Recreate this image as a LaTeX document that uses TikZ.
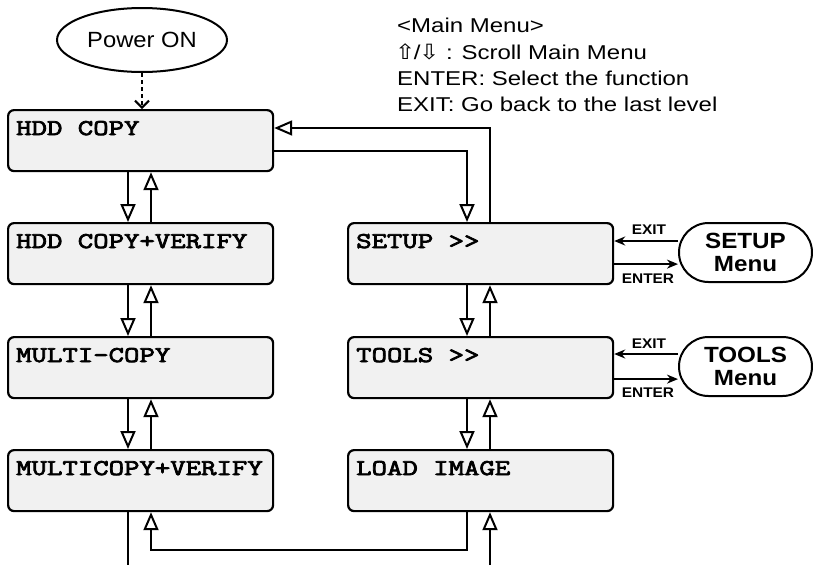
\documentclass[tikz,border=0pt]{standalone}
\usepackage{fontspec}
\setmainfont{Liberation Sans}
\newfontfamily\annotfont[FakeStretch=1.2]{Liberation Sans}
\newfontfamily\powfont[FakeStretch=1.08]{Liberation Sans}
\newfontfamily\menufont[FakeStretch=1.1]{Liberation Sans}
\newfontfamily\boxfont[FakeBold=3.5,FakeStretch=1.33]{Latin Modern Mono}
\newfontfamily\symfont[FakeStretch=1.15]{DejaVu Sans}
\usetikzlibrary{arrows.meta,shapes.misc,shapes.geometric}
\definecolor{boxgray}{HTML}{F1F1F1}
\begin{document}
\begin{tikzpicture}[x=1pt,y=-1pt,
  box/.style={draw, line width=2.2pt, rounded corners=6pt, fill=boxgray,
    minimum width=265pt, minimum height=61pt, inner sep=0pt, anchor=north west},
  boxtext/.style={anchor=base west, inner sep=0pt,
    font=\boxfont\fontsize{22.5}{26}\selectfont},
  menu/.style={draw, rounded rectangle, line width=2pt, fill=white,
    minimum width=133pt, minimum height=59pt, inner sep=0pt, align=center,
    font=\menufont\bfseries\fontsize{22}{23}\selectfont},
  lab/.style={anchor=base, inner sep=0pt,
    font=\menufont\bfseries\fontsize{14}{14}\selectfont},
  leg/.style={anchor=base west, inner sep=0pt,
    font=\annotfont\fontsize{20}{24}\selectfont},
  conn/.style={line width=2pt},
  tri/.style={conn, -{Triangle[open,length=18pt,width=15pt]}},
  sarr/.style={conn, -{Stealth[length=11pt,width=9pt]}}
]
\useasboundingbox (0,0) rectangle (813,565);

% legend
\node[leg] (l1) at (397,32) {<Main Menu>};
\node[leg] (l2) at (395,59) {{\symfont\fontsize{21}{21}\selectfont ⇧}\kern-1.5pt/\kern-1.5pt{\symfont\fontsize{21}{21}\selectfont ⇩} : Scroll Main Menu};
\node[leg] (l3) at (397,85) {ENTER: Select the function};
\node[leg] (l4) at (397,111) {EXIT: Go back to the last level};

% power on
\node[draw, ellipse, line width=2pt, fill=white, minimum width=170pt, minimum height=64pt,
  inner sep=0pt, font=\powfont\fontsize{22}{22}\selectfont] (pw) at (142,40) {Power ON};

% boxes
\node[box] (hdd) at (7,109) {};
\node[box] (hcv) at (7,222) {};
\node[box] (mc) at (7,336) {};
\node[box] (mcv) at (7,449) {};
\node[box] (setup) at (347,222) {};
\node[box] (tools) at (347,336) {};
\node[box] (load) at (347,449) {};

\node[boxtext] (thdd) at ([xshift=9pt,yshift=-26pt]hdd.north west) {HDD COPY};
\node[boxtext] (thcv) at ([xshift=9pt,yshift=-26pt]hcv.north west) {HDD COPY+VERIFY};
\node[boxtext] (tmc) at ([xshift=9pt,yshift=-26pt]mc.north west) {MULTI-COPY};
\node[boxtext] (tmcv) at ([xshift=9pt,yshift=-26pt]mcv.north west) {MULTICOPY+VERIFY};
\node[boxtext] (tsetup) at ([xshift=9pt,yshift=-26pt]setup.north west) {SETUP >>};
\node[boxtext] (ttools) at ([xshift=9pt,yshift=-26pt]tools.north west) {TOOLS >>};
\node[boxtext] (tload) at ([xshift=9pt,yshift=-26pt]load.north west) {LOAD IMAGE};

% side menus
\node[menu] (sm) at (745.5,252.5) {SETUP\\Menu};
\node[menu] (tm) at (745.5,366.5) {TOOLS\\Menu};

% labels
\node[lab] (se1) at (649,234) {EXIT};
\node[lab] (se2) at (648,283) {ENTER};
\node[lab] (te1) at (649,348) {EXIT};
\node[lab] (te2) at (648,397) {ENTER};

% power on -> hdd copy
\draw[conn, dash pattern=on 4pt off 3pt, -{Straight Barb[length=7pt,width=14pt]}]
  (pw.south) -- (pw.south |- hdd.north);

% left column
\draw[tri] ([xshift=121pt]hdd.south west) -- ([xshift=121pt]hcv.north west);
\draw[tri] ([xshift=144pt]hcv.north west) -- ([xshift=144pt]hdd.south west);
\draw[tri] ([xshift=121pt]hcv.south west) -- ([xshift=121pt]mc.north west);
\draw[tri] ([xshift=144pt]mc.north west) -- ([xshift=144pt]hcv.south west);
\draw[tri] ([xshift=121pt]mc.south west) -- ([xshift=121pt]mcv.north west);
\draw[tri] ([xshift=144pt]mcv.north west) -- ([xshift=144pt]mc.south west);

% right column
\draw[tri] ([xshift=120pt]setup.south west) -- ([xshift=120pt]tools.north west);
\draw[tri] ([xshift=143pt]tools.north west) -- ([xshift=143pt]setup.south west);
\draw[tri] ([xshift=120pt]tools.south west) -- ([xshift=120pt]load.north west);
\draw[tri] ([xshift=143pt]load.north west) -- ([xshift=143pt]tools.south west);

% hdd copy <-> setup
\draw[tri] ([yshift=-42pt]hdd.north east) -| ([xshift=120pt]setup.north west);
\draw[tri] ([xshift=143pt]setup.north west) |- ([yshift=-19pt]hdd.north east);

% bottom
\coordinate (outL) at (128,565);
\coordinate (inR) at (490,565);
\draw[tri] ([xshift=120pt]load.south west) -- ++(0,38) -| ([xshift=144pt]mcv.south west);
\draw[conn] ([xshift=121pt]mcv.south west) -- (outL);
\draw[tri] (inR) -- ([xshift=143pt]load.south west);

% side menu arrows
\draw[sarr] ([yshift=11.5pt]sm.west) -- ([yshift=11.5pt]sm.west -| setup.east);
\draw[sarr] ([yshift=-10.5pt]setup.east) -- ([yshift=-10.5pt]setup.east -| sm.west);
\draw[sarr] ([yshift=12.5pt]tm.west) -- ([yshift=12.5pt]tm.west -| tools.east);
\draw[sarr] ([yshift=-11.5pt]tools.east) -- ([yshift=-11.5pt]tools.east -| tm.west);
\end{tikzpicture}
\end{document}
